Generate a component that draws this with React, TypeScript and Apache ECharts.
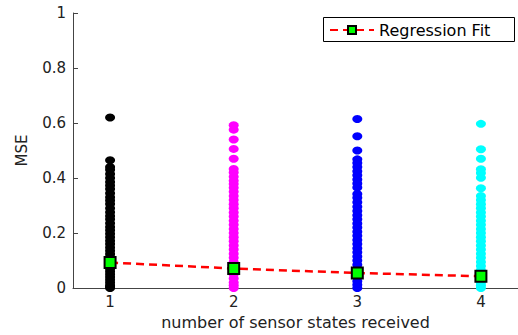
import React, { useEffect, useRef } from "react";
import * as echarts from "echarts";

const categories = [1, 2, 3, 4];
const fitValues = [0.093, 0.071, 0.055, 0.043];
const col1 = [0.62, 0.465, 0.44, 0.43, 0.415, 0.4, 0.386, 0.373, 0.36, 0.345, 0.33, 0.318, 0.306, 0.29, 0.276, 0.262, 0.25, 0.236, 0.222, 0.21, 0.198, 0.185, 0.172, 0.16, 0.148, 0.136, 0.124, 0.112, 0.1, 0.09, 0.08, 0.07, 0.06, 0.05, 0.04, 0.03, 0.02, 0.01, 0.004, 0];
const col2 = [0.592, 0.576, 0.54, 0.506, 0.47, 0.433, 0.42, 0.405, 0.39, 0.378, 0.365, 0.35, 0.335, 0.32, 0.305, 0.29, 0.275, 0.26, 0.245, 0.23, 0.215, 0.2, 0.185, 0.17, 0.155, 0.14, 0.125, 0.11, 0.095, 0.08, 0.065, 0.05, 0.035, 0.02, 0.01, 0];
const col3 = [0.615, 0.552, 0.5, 0.468, 0.455, 0.44, 0.425, 0.41, 0.395, 0.38, 0.366, 0.342, 0.328, 0.312, 0.296, 0.28, 0.265, 0.25, 0.235, 0.22, 0.205, 0.19, 0.175, 0.16, 0.145, 0.13, 0.115, 0.1, 0.085, 0.07, 0.055, 0.04, 0.025, 0.012, 0];
const col4 = [0.597, 0.505, 0.47, 0.432, 0.418, 0.401, 0.363, 0.335, 0.32, 0.305, 0.29, 0.275, 0.26, 0.245, 0.23, 0.215, 0.2, 0.185, 0.17, 0.155, 0.14, 0.125, 0.11, 0.095, 0.08, 0.065, 0.05, 0.035, 0.02, 0.01, 0];
const yTicks = [0, 0.2, 0.4, 0.6, 0.8, 1];

const FONT = "DejaVu Sans, Verdana, sans-serif";

export default function App() {
  const ref = useRef<HTMLDivElement>(null);
  useEffect(() => {
    if (!ref.current) return;
    const chart = echarts.init(ref.current, undefined, { renderer: "svg" });
    const cols = [col1, col2, col3, col4];
    const colors = ["#000000", "#ff00ff", "#0000ff", "#00ffff"];
    const scatter = cols.map((c, i) => ({
      type: "scatter",
      name: "col" + (i + 1),
      data: c.map((v) => [categories[i], v]),
      symbol: "circle",
      symbolSize: [10, 8],
      itemStyle: { color: colors[i], opacity: 1 },
      silent: true,
      z: 2,
    }));
    chart.setOption({
      animation: false,
      backgroundColor: "#ffffff",
      textStyle: { fontFamily: FONT },
      grid: { left: 73, top: 13, height: 279, width: 448, containLabel: false },
      graphic: [
        {
          type: "rect",
          left: 323,
          top: 17,
          z: 3,
          silent: true,
          shape: { width: 191, height: 24 },
          style: { fill: "#ffffff", stroke: "#000000", lineWidth: 1 },
        },
      ],
      legend: {
        data: ["Regression Fit"],
        left: 329,
        top: 17,
        orient: "horizontal",
        borderWidth: 0,
        backgroundColor: "transparent",
        padding: [5, 0, 5, 0],
        itemWidth: 44,
        itemHeight: 10,
        itemGap: 4,
        z: 6,
        textStyle: { fontFamily: FONT, fontSize: 16, color: "#000" },
      },
      xAxis: {
        type: "value",
        min: 0.7,
        max: 4.3,
        name: "number of sensor states received",
        nameLocation: "middle",
        nameGap: 22,
        nameTextStyle: { fontFamily: FONT, fontSize: 16, color: "#222" },
        axisLine: { show: true, onZero: false, lineStyle: { color: "#444", width: 1 } },
        axisTick: { show: true, inside: true, length: 5, customValues: categories, lineStyle: { color: "#444" } },
        axisLabel: { customValues: categories, margin: 6, fontSize: 15, color: "#222", fontFamily: FONT },
        splitLine: { show: false },
      },
      yAxis: {
        type: "value",
        min: 0,
        max: 1,
        interval: 0.2,
        name: "MSE",
        nameLocation: "middle",
        nameGap: 44,
        nameTextStyle: { fontFamily: FONT, fontSize: 15, color: "#222" },
        axisLine: { show: true, lineStyle: { color: "#444", width: 1 } },
        axisTick: { show: true, inside: true, length: 5, lineStyle: { color: "#444" } },
        axisLabel: {
          fontSize: 15,
          color: "#222",
          margin: 7,
          fontFamily: FONT,
          formatter: (v: number) => {
            const t = yTicks.find((k) => Math.abs(k - v) < 1e-9);
            return t === undefined ? "" : String(t);
          },
        },
        splitLine: { show: false },
      },
      series: [
        ...scatter,
        {
          type: "line",
          name: "Regression Fit",
          data: categories.map((c, i) => [c, fitValues[i]]),
          symbol: "rect",
          symbolSize: 11,
          itemStyle: { color: "#00ff00", borderColor: "#000", borderWidth: 2 },
          lineStyle: { color: "#ff0000", width: 2.5, type: [8, 5] },
          z: 5,
          silent: true,
        },
      ],
    });
    return () => chart.dispose();
  }, []);
  return (
    <div
      ref={ref}
      style={{ position: "fixed", left: 0, top: 0, width: 518, height: 335 }}
    />
  );
}
